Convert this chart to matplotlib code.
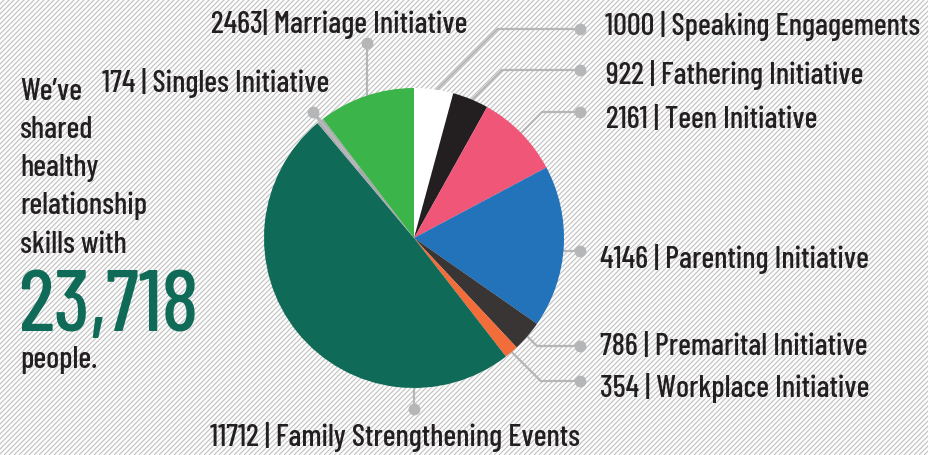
import numpy as np
import matplotlib
matplotlib.use("Agg")
import matplotlib.pyplot as plt
from matplotlib.collections import LineCollection

# data, in the order the slices go round (clockwise from the top)
programs = ["Speaking Engagements", "Fathering Initiative", "Teen Initiative",
            "Parenting Initiative", "Premarital Initiative", "Workplace Initiative",
            "Family Strengthening Events", "Singles Initiative", "Marriage Initiative"]
people = [1000, 922, 2161, 4146, 786, 354, 11712, 174, 2463]
colors = ["#ffffff", "#231f20", "#f05677", "#2273b9", "#3a3535", "#f26d3a",
          "#0f6b57", "#a7a9ac", "#3bb54a"]
label_text = ["1000 | Speaking Engagements", "922 | Fathering Initiative",
              "2161 | Teen Initiative", "4146 | Parenting Initiative",
              "786 | Premarital Initiative", "354 | Workplace Initiative",
              "11712 | Family Strengthening Events", "174 | Singles Initiative",
              "2463| Marriage Initiative"]
total = sum(people)

W, H = 929, 456
TXT = "#231f20"
GREY = "#b5b6b8"
FONT = ["Barlow Condensed", "DejaVu Sans"]
FS = 22

fig = plt.figure(figsize=(W / 100, H / 100), dpi=100)
ax = fig.add_axes([0, 0, 1, 1])

# diagonal hatch background
segs = [[(x0, H), (x0 + H, 0)] for x0 in np.arange(-H, W + 5, 5)]
ax.add_collection(LineCollection(segs, colors="#c2c2c2", linewidths=0.85, zorder=0))

# pie (y axis goes down, so counterclockwise here is clockwise on screen)
cx, cy, R = 414, 239, 150
wedges, _ = ax.pie(people, colors=colors, startangle=-90, counterclock=True,
                   center=(cx, cy), radius=R, wedgeprops=dict(linewidth=0))
for w in wedges:
    w.set_zorder(3)

def anchor(i, r=R, ang=None):
    w = wedges[i]
    a = np.deg2rad((w.theta1 + w.theta2) / 2 if ang is None else ang)
    return cx + r * np.cos(a), cy + r * np.sin(a)

def leader(pts, z=2, lw=1.6):
    xs, ys = zip(*pts)
    ax.plot(xs, ys, color=GREY, lw=lw, solid_capstyle="round", zorder=z)
    ax.plot(xs[-1], ys[-1], "o", ms=7.5, color=GREY, zorder=z)

def label(x, y, s, ha="left"):
    ax.text(x, y, s, fontsize=FS, family=FONT, weight="medium", color=TXT,
            ha=ha, va="baseline", zorder=5)

# right side labels: dot y, text x, text baseline
right = {0: (30, 605, 35), 1: (71, 606, 84), 2: (113, 606, 128),
         3: (252, 600, 268), 4: (347, 600, 355), 5: (382, 600, 397)}
for i, (dy, tx, tb) in right.items():
    ax_, ay_ = anchor(i, r=R - 4)
    ex = ax_ + abs(ay_ - dy)
    leader([(ax_, ay_), (ex, dy), (580, dy)])
    label(tx, tb, label_text[i])

# family events, below the pie
fx, fy = anchor(6, r=R - 4, ang=90)
leader([(fx, fy), (fx, 410)])
label(395, 446, label_text[6], ha="center")

# marriage, above the pie
mx, my = anchor(8, r=R - 4)
leader([(mx, my), (mx, 44)])
label(339, 33, label_text[8], ha="center")

# singles: the leader runs into the slice
s0 = anchor(7, r=R * 0.6)
s1 = anchor(7, r=R * 1.08)
leader([s0, s1], z=4, lw=2.4)
label(216, 92, label_text[7], ha="center")

# left hand blurb
blurb = [("We\u2019ve", 100), ("shared", 138), ("healthy", 176),
         ("relationship", 214), ("skills with", 253), ("people.", 368)]
for s, b in blurb:
    label(20, b, s)
ax.text(18, 331, f"{total:,}", fontsize=62, family=FONT, weight="medium",
        color="#0f6b57", ha="left", va="baseline")

ax.set_xlim(0, W)
ax.set_ylim(H, 0)
ax.set_aspect("equal")
ax.axis("off")
fig.savefig("out.png", dpi=100)
